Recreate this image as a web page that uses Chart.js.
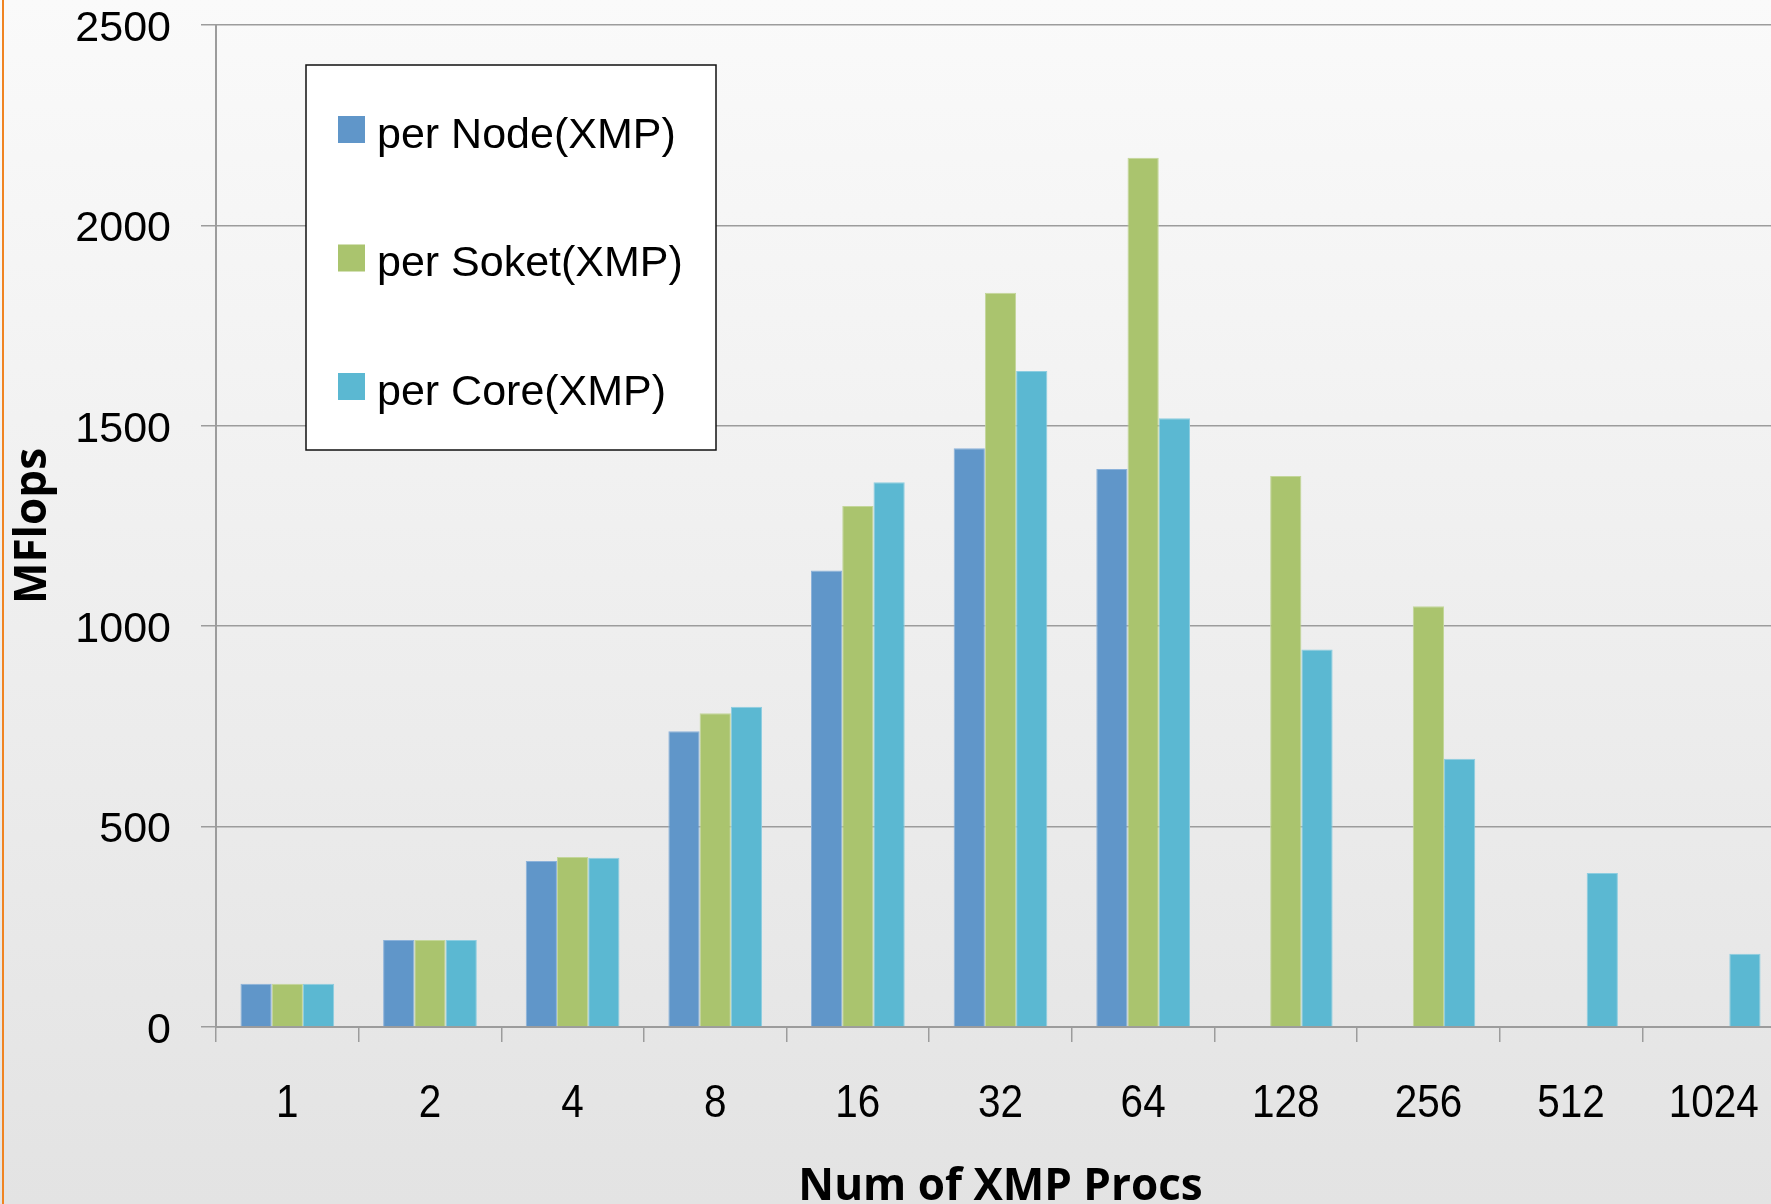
<!DOCTYPE html>
<html>
<head>
<meta charset="utf-8">
<script src="https://cdn.jsdelivr.net/npm/chart.js@4/dist/chart.umd.min.js"></script>
<style>
  html, body { margin: 0; padding: 0; overflow: hidden; background: #eeeeee; }
  #wrap { width: 1800px; height: 1204px; position: relative; }
  canvas { display: block; }
</style>
</head>
<body>
<div id="wrap"><canvas id="c" width="1800" height="1204"></canvas></div>
<script>
// Process counts on the x axis
const categories = ['1', '2', '4', '8', '16', '32', '64', '128', '256', '512', '1024'];

// MFlops per node / socket / core
const perNode   = [108, 217, 414, 738, 1139, 1444, 1392, null, null, null, null];
const perSocket = [108, 217, 424, 783, 1300, 1832, 2169, 1375, 1050, null, null];
const perCore   = [108, 217, 422, 799, 1359, 1637, 1519, 942, 669, 384, 183];

const seriesNames = ['per Node(XMP)', 'per Soket(XMP)', 'per Core(XMP)'];
const yTicks = [0, 500, 1000, 1500, 2000, 2500];

const colors = ['#6096c9', '#aac46e', '#5bb8d2'];
const edgeColors = ['#8cb2da', '#c3d69a', '#8dcde0'];

// horizontal squeeze applied to the x tick labels (narrow digits)
const X_LABEL_SQUEEZE = 0.88;

// Slide-style backdrop: soft vertical gradient with an orange rule on the left
const backdrop = {
  id: 'backdrop',
  beforeDraw(chart) {
    const { ctx, width, height } = chart;
    ctx.save();
    const g = ctx.createLinearGradient(0, 0, 0, height);
    g.addColorStop(0, '#fafafa');
    g.addColorStop(1, '#e3e3e3');
    ctx.fillStyle = g;
    ctx.fillRect(0, 0, width, height);
    ctx.fillStyle = '#f08422';
    ctx.fillRect(2, 0, 2, height);
    ctx.restore();
  }
};

// Boxed legend placed inside the plot area
const boxLegend = {
  id: 'boxLegend',
  afterDraw(chart) {
    const { ctx } = chart;
    const box = { x: 306, y: 65, w: 410, h: 385 };
    ctx.save();
    ctx.fillStyle = '#ffffff';
    ctx.fillRect(box.x, box.y, box.w, box.h);
    ctx.strokeStyle = '#111111';
    ctx.lineWidth = 1.5;
    ctx.strokeRect(box.x, box.y, box.w, box.h);
    ctx.font = '43px "Liberation Sans", Arial, sans-serif';
    ctx.textBaseline = 'alphabetic';
    ctx.textAlign = 'left';
    chart.data.datasets.forEach((ds, i) => {
      const top = 116 + i * 128.5;
      ctx.fillStyle = ds.backgroundColor;
      ctx.fillRect(338, top, 27, 27);
      ctx.fillStyle = '#000000';
      ctx.fillText(ds.label, 377, top + 31.5);
    });
    ctx.restore();
  }
};

// Draw the category labels slightly condensed, each kept centred on its tick
function narrowLabels(scale) {
  if (scale._narrowPatched) return;
  scale._narrowPatched = true;
  scale.drawLabels = function (chartArea) {
    if (!this.options.ticks.display) return;
    const ctx = this.ctx;
    const items = this.getLabelItems(chartArea);
    ctx.save();
    ctx.scale(X_LABEL_SQUEEZE, 1);
    for (const item of items) {
      const t = item.options.translation;
      const opts = Object.assign({}, item.options, { translation: [t[0] / X_LABEL_SQUEEZE, t[1]] });
      Chart.helpers.renderText(ctx, item.label, 0, item.textOffset, item.font, opts);
    }
    ctx.restore();
  };
}

const seriesValues = [perNode, perSocket, perCore];

new Chart(document.getElementById('c'), {
  type: 'bar',
  data: {
    labels: categories,
    datasets: seriesNames.map((name, i) => ({
      label: name,
      data: seriesValues[i],
      backgroundColor: colors[i],
      borderColor: edgeColors[i],
      borderWidth: 1,
      categoryPercentage: 0.657,
      barPercentage: 1.0
    }))
  },
  options: {
    responsive: false,
    animation: false,
    devicePixelRatio: 1,
    layout: { padding: { top: 25, right: 15, left: 0, bottom: 0 } },
    plugins: {
      legend: { display: false },
      tooltip: { enabled: false }
    },
    scales: {
      x: {
        offset: true,
        grid: {
          offset: true,
          drawOnChartArea: false,
          drawTicks: true,
          tickLength: 15,
          color: '#9c9c9c',
          lineWidth: 1.5
        },
        border: { display: true, color: '#9c9c9c', width: 2 },
        ticks: {
          color: '#000000',
          padding: 39,
          maxRotation: 0,
          autoSkip: false,
          font: { family: '"Liberation Sans", Arial, sans-serif', size: 46, lineHeight: 1 }
        },
        title: {
          display: true,
          text: 'Num of XMP Procs',
          color: '#000000',
          padding: { top: 0, bottom: -5 },
          font: { family: '"Open Sans", sans-serif', size: 44, weight: 'bold', lineHeight: 1 }
        },
        afterFit(scale) {
          scale.height = 177;
          scale.paddingLeft = 0;
          scale.paddingRight = 0;
          narrowLabels(scale);
        }
      },
      y: {
        min: 0,
        max: 2500,
        afterBuildTicks(scale) { scale.ticks = yTicks.map(v => ({ value: v })); },
        grid: {
          color: '#9c9c9c',
          lineWidth: 1.5,
          drawTicks: true,
          tickLength: 15
        },
        border: { display: true, color: '#9c9c9c', width: 2 },
        ticks: {
          color: '#000000',
          padding: 30,
          labelOffset: 4,
          callback: (v) => String(v),
          font: { family: '"Liberation Sans", Arial, sans-serif', size: 43, lineHeight: 1 }
        },
        title: {
          display: true,
          text: 'MFlops',
          color: '#000000',
          padding: { top: 11, bottom: 0 },
          font: { family: '"Open Sans", sans-serif', size: 44, weight: 'bold', lineHeight: 1 }
        },
        afterFit(scale) {
          scale.width = 216;
          scale.paddingTop = 0;
          scale.paddingBottom = 0;
        }
      }
    }
  },
  plugins: [backdrop, boxLegend]
});
</script>
</body>
</html>
